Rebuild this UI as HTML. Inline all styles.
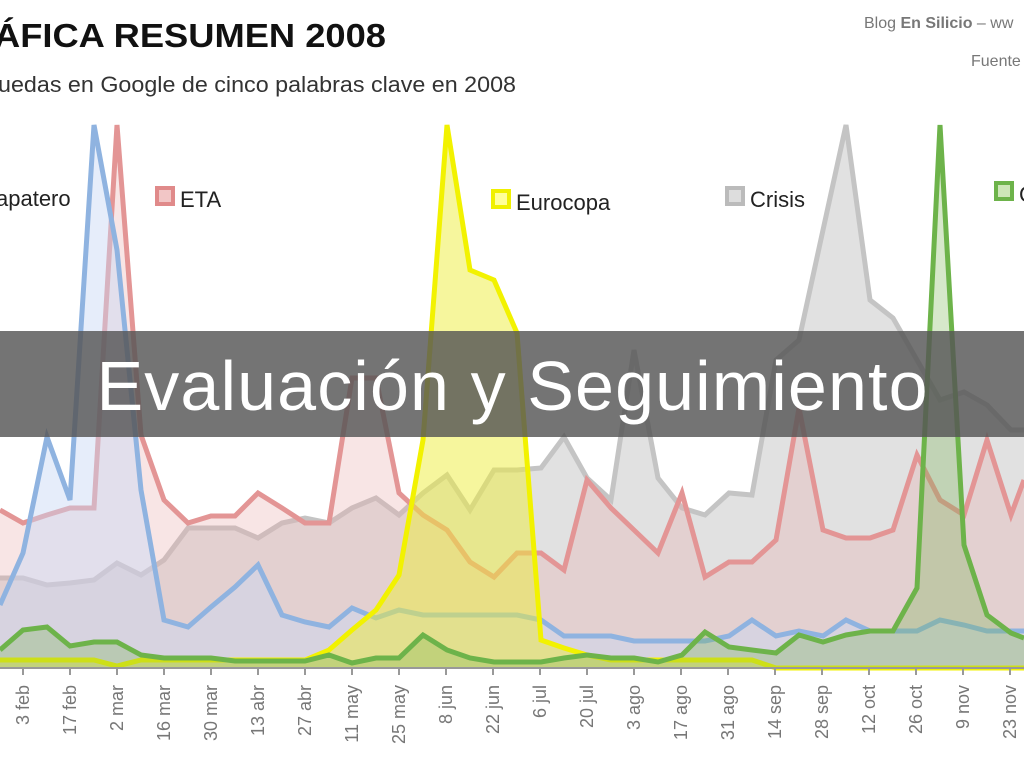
<!DOCTYPE html>
<html><head><meta charset="utf-8"><style>
html,body{margin:0;padding:0;background:#fff;width:1024px;height:768px;overflow:hidden;font-family:"Liberation Sans",sans-serif}
</style></head><body>
<svg id="s" width="1024" height="768" xmlns="http://www.w3.org/2000/svg" style="position:absolute;left:0;top:0">
<text x="-6" y="47" font-size="33" font-weight="bold" fill="#111" textLength="392" lengthAdjust="spacingAndGlyphs">ÁFICA RESUMEN 2008</text>
<text x="-2" y="92" font-size="22" fill="#333" textLength="518" lengthAdjust="spacingAndGlyphs">uedas en Google de cinco palabras clave en 2008</text>
<text x="864" y="28" font-size="16" fill="#777">Blog <tspan font-weight="bold">En Silicio</tspan> – ww</text>
<text x="971" y="66" font-size="16" fill="#777">Fuente</text>
<g id="areas"></g>
<g font-size="22" fill="#222">
<text x="-4" y="206">apatero</text>
<rect x="157" y="188" width="16" height="16" fill="#f2c6c6" stroke="#e08a8a" stroke-width="4"/><text x="180" y="207">ETA</text>
<rect x="493" y="191" width="16" height="16" fill="#ffff99" stroke="#f0f000" stroke-width="4"/><text x="516" y="210">Eurocopa</text>
<rect x="727" y="188" width="16" height="16" fill="#ddd" stroke="#bbb" stroke-width="4"/><text x="750" y="207">Crisis</text>
<rect x="996" y="183" width="16" height="16" fill="#cde6b8" stroke="#6db34a" stroke-width="4"/><text x="1019" y="202">C</text>
</g>
<line x1="0" y1="668" x2="1024" y2="668" stroke="#999" stroke-width="2"/>
<g id="ticks" font-size="18" fill="#777"></g>
<rect x="0" y="331" width="1024" height="106" fill="#555" fill-opacity="0.82"/>
<text x="512" y="410" text-anchor="middle" font-size="70" fill="#fff" textLength="831" lengthAdjust="spacing">Evaluación y Seguimiento</text>
</svg>
<script>
var X=[0,23,47,70,94,117,141,164,188,211,235,258,282,305,329,352,376,399,423,447,470,494,517,541,564,587,611,634,658,682,705,729,752,776,799,823,846,870,893,917,940,964,987,1011,1024];
var gray=[578,578,585,583,580,563,575,560,528,528,528,538,523,518,523,508,498,515,493,475,510,470,470,468,437,478,500,350,478,508,515,493,495,360,340,230,125,300,318,360,400,392,405,430,430];
var red=[510,523,515,508,508,125,435,500,523,516,516,493,508,523,523,378,378,493,515,530,562,577,553,553,570,480,508,530,553,493,577,562,562,540,408,530,538,538,530,455,500,515,440,515,480];
var blue=[605,553,437,500,125,250,490,620,627,607,587,565,615,622,627,608,618,610,615,615,615,615,615,620,636,636,636,641,641,641,641,636,620,636,631,636,620,631,631,631,620,625,631,631,631];
var yel=[660,660,660,660,660,666,660,660,660,660,660,660,660,660,650,630,610,575,440,125,270,280,333,640,648,655,660,660,660,660,660,660,660,668,668,668,668,668,668,668,668,668,668,668,668];
var grn=[650,630,627,646,642,642,655,658,658,658,661,661,661,661,655,663,658,658,635,650,658,662,662,662,658,655,658,658,662,655,632,647,650,653,635,642,635,631,631,588,125,545,615,633,638];
var S=[[gray,"rgba(200,200,200,0.55)","#c4c4c4"],[red,"rgba(232,170,170,0.3)","#e39595"],[blue,"rgba(200,215,245,0.45)","#8fb3e0"],[yel,"rgba(238,238,60,0.5)","#f2f200"],[grn,"rgba(120,180,80,0.3)","#6db34a"]];
var g=document.getElementById("areas"),h="";
S.forEach(function(s){var p=X.map(function(x,i){return x+","+s[0][i]}).join(" ");
h+='<polygon points="'+p+' 1024,668 0,668" fill="'+s[1]+'"/>';
h+='<polyline points="'+p+'" fill="none" stroke="'+s[2]+'" stroke-width="5" stroke-linejoin="miter"/>';});
g.innerHTML=h;
var L=["3 feb","17 feb","2 mar","16 mar","30 mar","13 abr","27 abr","11 may","25 may","8 jun","22 jun","6 jul","20 jul","3 ago","17 ago","31 ago","14 sep","28 sep","12 oct","26 oct","9 nov","23 nov"];
var t="";L.forEach(function(l,i){var x=23+47*i;t+='<line x1="'+x+'" y1="668" x2="'+x+'" y2="675" stroke="#999" stroke-width="2"/><text transform="translate('+(x+6)+',685) rotate(-90)" text-anchor="end">'+l+'</text>';});
document.getElementById("ticks").innerHTML=t;
</script>
</body></html>
